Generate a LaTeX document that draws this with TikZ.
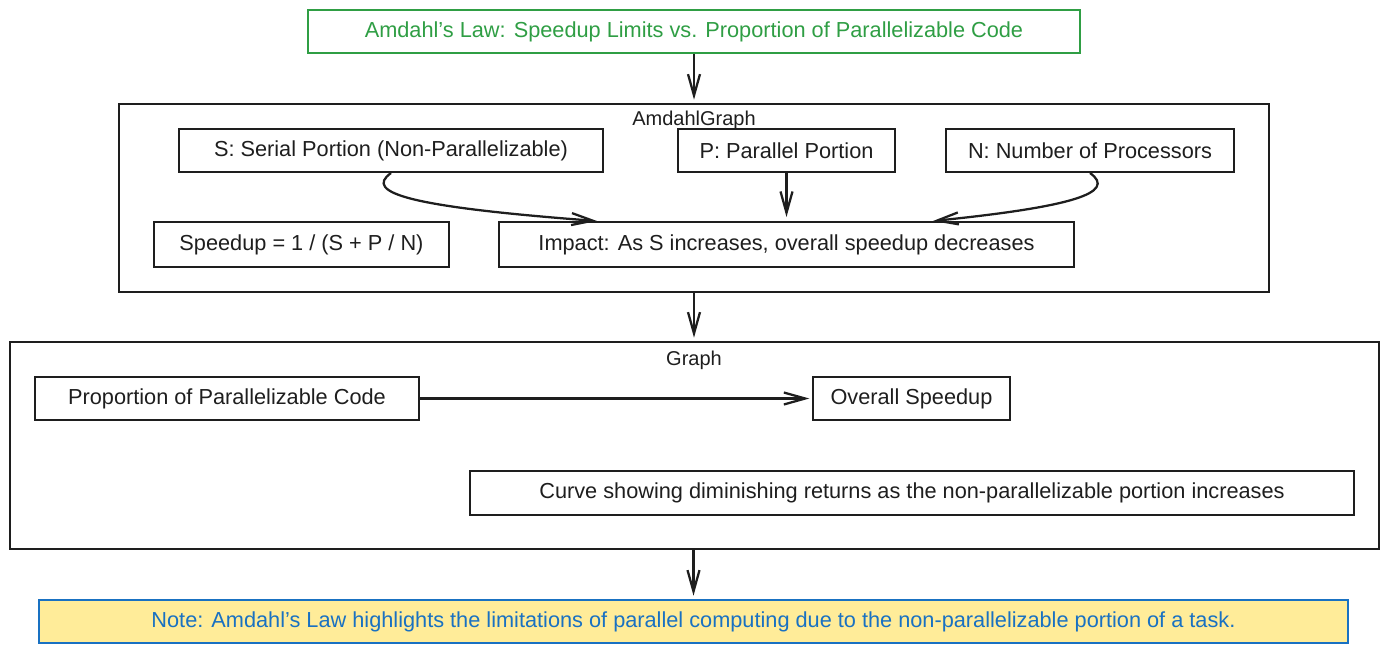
\documentclass[tikz,border=0pt]{standalone}
\usepackage{fontspec}
\setmainfont{Liberation Sans}
\usetikzlibrary{arrows.meta,calc}
\definecolor{exgreen}{HTML}{2F9E44}
\definecolor{exblue}{HTML}{1971C2}
\definecolor{exyellow}{HTML}{FFEC99}
\definecolor{exink}{HTML}{1E1E1E}
\begin{document}
\begin{tikzpicture}[x=0.75pt,y=-0.75pt,
  box/.style={draw=exink, line width=1.5pt, rectangle, inner sep=0pt, text=exink,
    font=\fontsize{16.3}{19}\selectfont},
  cont/.style={draw=exink, line width=1.5pt, rectangle, inner sep=0pt},
  lbl/.style={inner sep=0pt, text=exink, font=\fontsize{15}{18}\selectfont},
  arr/.style={draw=exink, line width=1.7pt, -{Straight Barb[length=16pt,width=9pt]}}]
\useasboundingbox (0,0) rectangle (1388,654);
% title
\node[box, draw=exgreen, text=exgreen, minimum width=579pt, minimum height=32.25pt] (title) at (694,31.5)
  {Amdahl’s Law: Speedup Limits vs. Proportion of Parallelizable Code};
% AmdahlGraph container
\node[cont, minimum width=862.5pt, minimum height=141pt] (ag) at (694,198) {};
\node[lbl] (aglbl) at (694,120) {AmdahlGraph};
\node[box, minimum width=318pt, minimum height=32.25pt] (S) at (391,150.5) {S: Serial Portion (Non-Parallelizable)};
\node[box, minimum width=162.75pt, minimum height=32.25pt] (P) at (786.5,150.5) {P: Parallel Portion};
\node[box, minimum width=216pt, minimum height=32.25pt] (N) at (1090,150.5) {N: Number of Processors};
\node[box, minimum width=221.25pt, minimum height=33.75pt] (speed) at (301.5,244.5) {Speedup = 1 / (S + P / N)};
\node[box, minimum width=431.25pt, minimum height=33.75pt] (impact) at (786.5,244.5) {Impact: As S increases, overall speedup decreases};
% Graph container
\node[cont, minimum width=1026.75pt, minimum height=155.25pt] (graph) at (694.5,445.5) {};
\node[lbl] (glbl) at (694,360) {Graph};
\node[box, minimum width=288pt, minimum height=32.25pt] (prop) at (227,398.5) {Proportion of Parallelizable Code};
\node[box, minimum width=147.75pt, minimum height=32.25pt] (overall) at (911.5,398.5) {Overall Speedup};
\node[box, minimum width=663pt, minimum height=33pt] (curve) at (912,493) {Curve showing diminishing returns as the non-parallelizable portion increases};
% note
\node[box, draw=exblue, fill=exyellow, text=exblue, minimum width=981.75pt, minimum height=32.25pt] (note) at (693.5,621.5)
  {Note: Amdahl’s Law highlights the limitations of parallel computing due to the non-parallelizable portion of a task.};
% connectors
\draw[arr, shorten >=2.5pt] (title.south) -- (title.south |- ag.north);
\draw[arr, shorten >=2.5pt] (ag.south) -- (ag.south |- graph.north);
\draw[arr, shorten >=2.5pt] (graph.south -| note.north) -- (note.north);
\draw[arr] (S.south) .. controls ($(S.south)+(-28,20)$) and ($(S.south)+(20,34)$) .. ($(impact.north)+(-189.5,0)$);
\draw[arr, shorten >=3pt] (P.south) -- (impact.north);
\draw[arr] (N.south) .. controls ($(N.south)+(28,20)$) and ($(N.south)+(-20,34)$) .. ($(impact.north)+(146.5,0)$);
\draw[arr, shorten >=2pt] (prop.east) -- (overall.west);
\end{tikzpicture}
\end{document}
